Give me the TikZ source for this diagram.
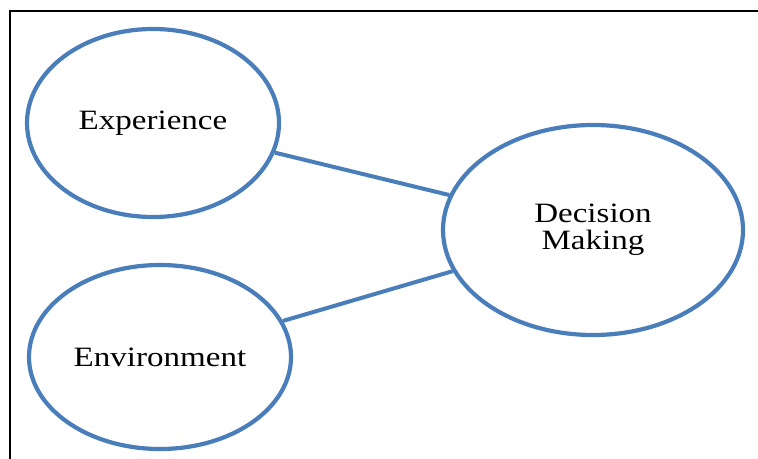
\documentclass[tikz,border=0pt]{standalone}
\usepackage{fontspec}
\setmainfont[FakeStretch=1.18]{Liberation Serif}
\usetikzlibrary{shapes.geometric}
\definecolor{ringblue}{RGB}{74,126,187}

\begin{document}
\begin{tikzpicture}[
    x=0.5pt, y=-0.5pt,
    ring/.style={ellipse, draw=ringblue, line width=2.1pt, inner sep=0pt,
                 align=center, font=\fontsize{14}{13.5}\selectfont},
    ]
    \useasboundingbox (0,0) rectangle (758,459);

    %Frame
    \draw[line width=1.2pt] (10,459) -- (10,11) -- (758,11);

    %Nodes
    \node[ring, minimum width=126pt, minimum height=94pt] at (153, 123) (exp) {Experience};
    \node[ring, minimum width=131pt, minimum height=92pt] at (160, 357) (env) {Environment};
    \node[ring, minimum width=150pt, minimum height=105pt] at (593, 230) (dec) {Decision\\Making};

    %Lines
    \draw[ringblue, line width=2pt] (exp) -- (dec);
    \draw[ringblue, line width=2pt] (env) -- (dec);
\end{tikzpicture}
\end{document}
